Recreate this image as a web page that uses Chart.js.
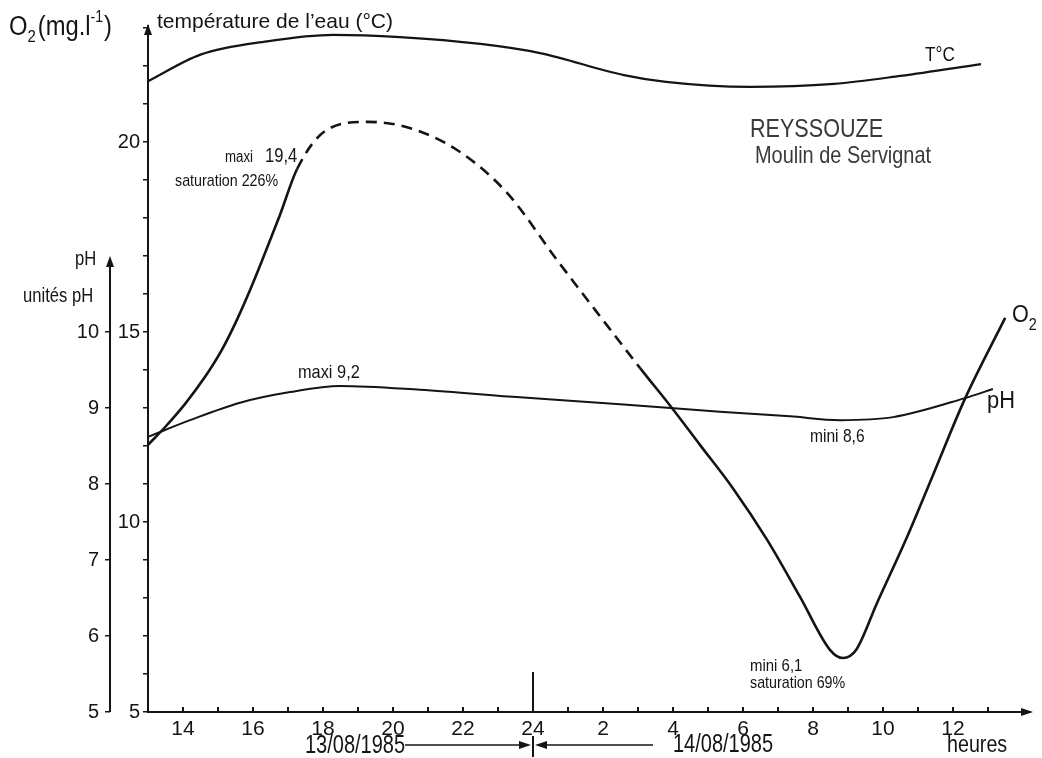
<!DOCTYPE html>
<html lang="fr">
<head>
<meta charset="utf-8">
<script src="https://cdn.jsdelivr.net/npm/chart.js@4.4.1/dist/chart.umd.min.js"></script>
<style>
  html, body { margin: 0; padding: 0; background: #fff; }
  #wrap { width: 1042px; height: 758px; }
</style>
</head>
<body>
<div id="wrap"><canvas id="graphe" width="1042" height="758"></canvas></div>
<script>
// heures (13 = 13h le 13/08, 24 = minuit, 37 = 13h le 14/08)
const tempHours  = [13, 14.5, 16.4, 18.3, 20.2, 22.5, 24.2, 26.6, 27.8, 30.2, 32.6, 34.5, 36.8];
const tempValues = [21.6, 22.3, 22.65, 22.82, 22.76, 22.58, 22.34, 21.76, 21.58, 21.45, 21.53, 21.74, 22.05];

const o2Hours  = [13, 13.49, 14.06, 14.63, 15.11, 15.54, 16.0, 16.4, 16.77, 17.26, 18.11, 19.26, 20.4, 21.83, 23.26, 24.69, 25.91, 27.06, 27.97, 28.77, 29.71, 30.69, 31.63, 32.49, 32.86, 33.23, 33.83, 34.69, 35.43, 36.34, 37.49];
const o2Values = [12.03, 12.5, 13.11, 13.82, 14.53, 15.32, 16.29, 17.21, 18.08, 19.29, 20.32, 20.53, 20.39, 19.79, 18.66, 16.89, 15.42, 14.05, 13.0, 12.03, 10.89, 9.53, 8.03, 6.63, 6.42, 6.63, 7.87, 9.61, 11.24, 13.24, 15.37];
const o2DashFrom = 17.26, o2DashTo = 27.06;   // partie estimée (tirets)

const phHours  = [13, 14.2, 15.63, 17.06, 18.49, 20.77, 23.63, 26.49, 29.34, 31.34, 32.77, 34.29, 36.34, 37.14];
const phValues = [8.62, 8.84, 9.07, 9.21, 9.29, 9.24, 9.14, 9.05, 8.95, 8.89, 8.84, 8.88, 9.13, 9.25];

const xTickValues = [14, 16, 18, 20, 22, 24, 26, 28, 30, 32, 34, 36];
const xTickLabels = ['14', '16', '18', '20', '22', '24', '2', '4', '6', '8', '10', '12'];
const o2TickLabels = [5, 10, 15, 20];
const phTickLabels = [5, 6, 7, 8, 9, 10];

const FONT = '"Liberation Sans", Arial, sans-serif';
const INK = '#141414';

const pts = (xs, ys) => xs.map((h, i) => ({ x: h, y: ys[i] }));

// textes, flèches, axe pH
const annotations = {
    id: 'annotations',
    afterDraw(chart) {
        const { ctx, chartArea, scales } = chart;
        const x = scales.x, yO2 = scales.yO2, yPH = scales.yPH;

        // texte un peu condensé comme sur l'original (sx = étroitesse)
        const txt = (s, px, py, size, sx = 0.83, color = INK) => {
            ctx.save();
            ctx.font = `${size}px ${FONT}`;
            ctx.fillStyle = color;
            ctx.textAlign = 'left';
            ctx.textBaseline = 'alphabetic';
            ctx.translate(px, py);
            ctx.scale(sx, 1);
            ctx.fillText(s, 0, 0);
            const w = ctx.measureText(s).width * sx;
            ctx.restore();
            return px + w;
        };
        const head = (tx, ty, dir) => {
            ctx.beginPath();
            if (dir === 'up') { ctx.moveTo(tx, ty); ctx.lineTo(tx - 4, ty + 11); ctx.lineTo(tx + 4, ty + 11); }
            if (dir === 'right') { ctx.moveTo(tx, ty); ctx.lineTo(tx - 12, ty - 4); ctx.lineTo(tx - 12, ty + 4); }
            if (dir === 'left') { ctx.moveTo(tx, ty); ctx.lineTo(tx + 12, ty - 4); ctx.lineTo(tx + 12, ty + 4); }
            ctx.closePath();
            ctx.fillStyle = INK;
            ctx.fill();
        };
        const line = (x1, y1, x2, y2, w = 1.5) => {
            ctx.beginPath();
            ctx.moveTo(x1, y1); ctx.lineTo(x2, y2);
            ctx.lineWidth = w; ctx.strokeStyle = INK; ctx.stroke();
        };

        ctx.save();
        // axe pH (s'arrête vers pH 11)
        const phX = yPH.right;
        line(phX, yPH.getPixelForValue(5), phX, yPH.getPixelForValue(11) + 4, 2);
        head(phX, yPH.getPixelForValue(11), 'up');
        // flèches des axes O2 et heures
        head(yO2.right, chartArea.top - 2, 'up');
        line(chartArea.right, chartArea.bottom, chartArea.right + 8, chartArea.bottom, 2);
        head(chartArea.right + 10, chartArea.bottom, 'right');

        // minuit
        const mx = x.getPixelForValue(24);
        line(mx, chartArea.bottom - 40, mx, chartArea.bottom, 2);
        line(mx, chartArea.bottom + 24, mx, chartArea.bottom + 45, 2);
        line(405, 745, mx - 10, 745, 1.5);
        head(mx - 2, 745, 'right');
        line(mx + 10, 745, 653, 745, 1.5);
        head(mx + 2, 745, 'left');

        // titres des axes
        let cx = txt('O', 9, 35, 27, 0.88);
        cx = txt('2', cx, 42, 17, 0.88);
        cx = txt('(mg.l', cx + 2, 35, 27, 0.88);
        cx = txt('-1', cx, 22, 16, 0.88);
        txt(')', cx + 1, 35, 27, 0.88);
        txt('température de l’eau (°C)', 157, 28, 21, 1);
        txt('pH', 75, 265, 20);
        txt('unités pH', 23, 302, 20);
        txt('13/08/1985', 305, 753, 25, 0.8);
        txt('14/08/1985', 673, 752, 25, 0.8);
        txt('heures', 947, 752, 24, 0.82);

        // station
        txt('REYSSOUZE', 750, 137, 26, 0.83, '#3a3a3a');
        txt('Moulin de Servignat', 755, 163, 24, 0.83, '#3a3a3a');

        // étiquettes des courbes
        txt('T°C', 925, 61, 20, 0.86);
        const ox = txt('O', 1012, 322, 24, 0.9);
        txt('2', ox, 330, 16, 0.9);
        txt('pH', 987, 408, 23, 0.95);
        txt('maxi', 225, 162, 16);
        txt('19,4', 265, 162, 20);
        txt('saturation 226%', 175, 186, 17, 0.84);
        txt('maxi 9,2', 298, 378, 19, 0.86);
        txt('mini 8,6', 810, 442, 19, 0.82);
        txt('mini 6,1', 750, 671, 17, 0.88);
        txt('saturation 69%', 750, 688, 17, 0.84);
        ctx.restore();
    }
};

new Chart(document.getElementById('graphe'), {
    type: 'line',
    data: {
        datasets: [
            {
                label: 'T°C',
                data: pts(tempHours, tempValues),
                yAxisID: 'yTemp',
                borderColor: INK, borderWidth: 2.2,
                cubicInterpolationMode: 'monotone', pointRadius: 0
            },
            {
                label: 'O2',
                data: pts(o2Hours, o2Values),
                yAxisID: 'yO2',
                borderColor: INK, borderWidth: 2.6,
                cubicInterpolationMode: 'monotone', pointRadius: 0,
                segment: {
                    borderDash: c => (c.p0.parsed.x >= o2DashFrom && c.p1.parsed.x <= o2DashTo) ? [11, 7] : undefined
                }
            },
            {
                label: 'pH',
                data: pts(phHours, phValues),
                yAxisID: 'yPH',
                borderColor: INK, borderWidth: 2,
                cubicInterpolationMode: 'monotone', pointRadius: 0
            }
        ]
    },
    options: {
        responsive: false,
        devicePixelRatio: 1,
        animation: false,
        layout: { padding: { left: 0, top: 26, right: 19, bottom: 0 } },
        plugins: { legend: { display: false }, tooltip: { enabled: false } },
        scales: {
            x: {
                type: 'linear', min: 13, max: 38,
                afterFit: s => { s.height = 46; },
                afterBuildTicks: s => { s.ticks = s.ticks.filter(t => t.value <= 37); },
                border: { display: true, color: INK, width: 2 },
                grid: { drawOnChartArea: false, drawTicks: true, tickLength: -5, color: INK, lineWidth: 2 },
                ticks: {
                    stepSize: 1, autoSkip: false, maxRotation: 0, padding: 10,
                    color: INK, font: { family: FONT, size: 21 },
                    callback: v => {
                        const i = xTickValues.indexOf(v);
                        return i >= 0 ? xTickLabels[i] : '';
                    }
                }
            },
            yO2: {
                type: 'linear', position: 'left', weight: 0,
                min: 5, max: 5 + 686 / 38,
                afterFit: s => { s.width = 38; },
                border: { display: true, color: INK, width: 2 },
                grid: { drawOnChartArea: false, drawTicks: true, tickLength: 5, color: INK, lineWidth: 1.5 },
                ticks: {
                    stepSize: 1, includeBounds: false, autoSkip: false, padding: 3,
                    color: INK, font: { family: FONT, size: 20 },
                    callback: v => o2TickLabels.includes(v) ? String(v) : ''
                }
            },
            yPH: {
                type: 'linear', position: 'left', weight: 1,
                min: 5, max: 5 + 686 / 76,
                afterFit: s => { s.width = 110; },
                afterBuildTicks: s => { s.ticks = s.ticks.filter(t => phTickLabels.includes(t.value)); },
                border: { display: false },
                grid: { drawOnChartArea: false, drawTicks: true, tickLength: 5, color: INK, lineWidth: 1.5 },
                ticks: {
                    stepSize: 1, includeBounds: false, autoSkip: false, padding: 6,
                    color: INK, font: { family: FONT, size: 20 },
                    callback: v => String(v)
                }
            },
            yTemp: {
                type: 'linear', display: false,
                min: 5, max: 5 + 686 / 38
            }
        }
    },
    plugins: [annotations]
});
</script>
</body>
</html>
